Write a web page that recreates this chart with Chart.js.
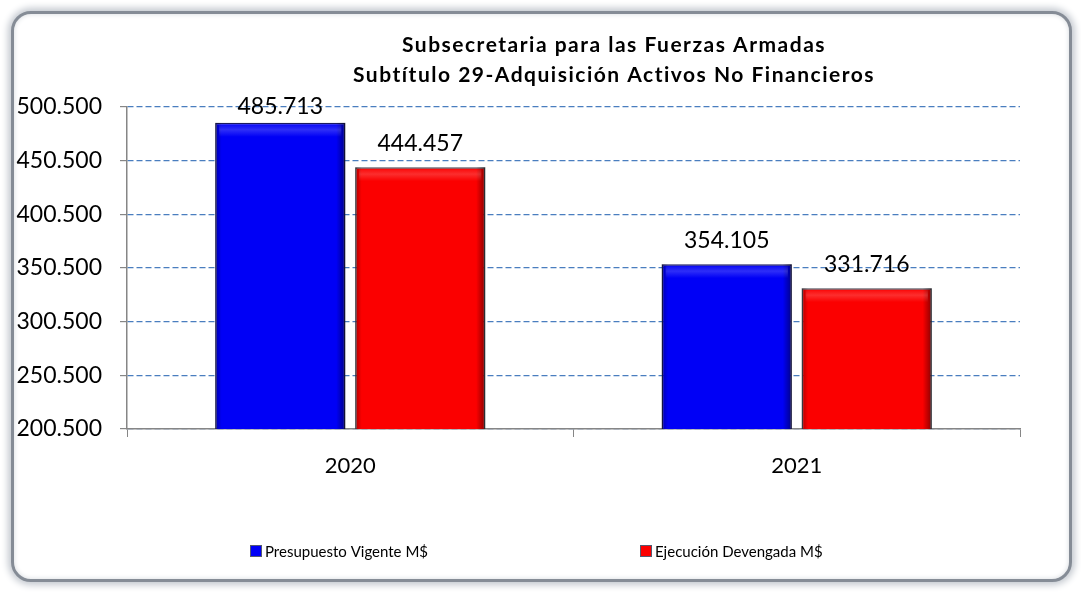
<!DOCTYPE html>
<html>
<head>
<meta charset="utf-8">
<script src="https://cdn.jsdelivr.net/npm/chart.js@4"></script>
<style>
	html, body { margin: 0; padding: 0; background: #fff; }
	#frame {
		position: absolute; left: 11px; top: 11px; width: 1055px; height: 565px;
		border: 3px solid #858c96; border-radius: 20px;
		box-shadow: 0 0 7px 3px #c3c8cf, inset 0 0 5px #d5d9de;
		background: #fff;
	}
	#wrap { position: absolute; left: 0; top: 0; width: 1081px; height: 592px; }
</style>
</head>
<body>
<div id="frame"></div>
<div id="wrap"><canvas id="budgetChart" width="1081" height="592"></canvas></div>
<script>
const years = ['2020', '2021'];
const presupuesto = [485713, 354105];
const ejecucion = [444457, 331716];
const yMin = 200500;
const yMax = 500500;
const yStep = 50000;
const titleLines = ['Subsecretaria para las Fuerzas Armadas', 'Subtítulo 29-Adquisición Activos No Financieros'];
const seriesNames = ['Presupuesto Vigente M$', 'Ejecución Devengada M$'];

const FONT = "Lato, 'Open Sans', sans-serif";

function fmt(v) {
	return String(Math.round(v)).replace(/\B(?=(\d{3})+(?!\d))/g, '.');
}

// darker edges on the bars, like the 3d office style
const barShade = {
	id: 'barShade',
	afterDatasetsDraw(chart) {
		const c = chart.ctx;
		const bottom = chart.chartArea.bottom;
		c.save();
		chart.data.datasets.forEach((ds, i) => {
			chart.getDatasetMeta(i).data.forEach(bar => {
				const p = bar.getProps(['x', 'y', 'width'], true);
				const l = p.x - p.width / 2;
				const w = p.width;
				const h = bottom - p.y;
				const g = c.createLinearGradient(l, 0, l + w, 0);
				g.addColorStop(0, 'rgba(0,0,0,0.30)');
				g.addColorStop(0.05, 'rgba(0,0,0,0)');
				g.addColorStop(0.93, 'rgba(0,0,0,0)');
				g.addColorStop(1, 'rgba(0,0,0,0.45)');
				c.fillStyle = g;
				c.fillRect(l, p.y, w, h);
				const gv = c.createLinearGradient(0, p.y, 0, p.y + 14);
				gv.addColorStop(0, 'rgba(255,255,255,0.0)');
				gv.addColorStop(0.5, 'rgba(255,255,255,0.18)');
				gv.addColorStop(1, 'rgba(255,255,255,0)');
				c.fillStyle = gv;
				c.fillRect(l + 4, p.y + 2, w - 8, 14);
			});
		});
		c.restore();
	}
};

// title, value labels and legend
const extras = {
	id: 'extras',
	afterDraw(chart) {
		const c = chart.ctx;
		c.save();
		c.fillStyle = '#000';
		c.textAlign = 'center';
		c.textBaseline = 'middle';
		c.font = 'bold 21px ' + FONT;
		c.letterSpacing = '1.5px';
		c.fillText(titleLines[0], 614, 45);
		c.fillText(titleLines[1], 614, 75);
		c.letterSpacing = '0px';

		c.font = '23px ' + FONT;
		c.textBaseline = 'bottom';
		const minBottom = chart.chartArea.top + 11;
		chart.data.datasets.forEach((ds, i) => {
			chart.getDatasetMeta(i).data.forEach((bar, j) => {
				c.fillText(fmt(ds.data[j]), bar.x, Math.max(bar.y - 12, minBottom));
			});
		});

		c.font = '15px ' + FONT;
		c.textAlign = 'left';
		c.textBaseline = 'middle';
		const legendX = [250, 640];
		chart.data.datasets.forEach((ds, i) => {
			const x = legendX[i];
			c.fillStyle = ds.backgroundColor;
			c.fillRect(x, 545, 12, 12);
			c.strokeStyle = '#555a70';
			c.lineWidth = 1;
			c.strokeRect(x + 0.5, 545.5, 11, 11);
			c.fillStyle = '#000';
			c.fillText(ds.label, x + 15, 552);
		});
		c.restore();
	}
};

new Chart(document.getElementById('budgetChart').getContext('2d'), {
	type: 'bar',
	data: {
		labels: years,
		datasets: [{
			label: seriesNames[0],
			data: presupuesto,
			backgroundColor: '#0000f6',
			borderColor: '#1a1a60',
			borderWidth: 1.5
		}, {
			label: seriesNames[1],
			data: ejecucion,
			backgroundColor: '#fb0000',
			borderColor: '#4a4a55',
			borderWidth: 1.5
		}]
	},
	options: {
		responsive: false,
		animation: false,
		categoryPercentage: 0.627,
		barPercentage: 0.93,
		layout: {
			padding: { top: 107, left: 0, right: 61, bottom: 113 }
		},
		plugins: {
			legend: { display: false },
			title: { display: false },
			tooltip: { enabled: false }
		},
		scales: {
			x: {
				afterFit(scale) { scale.height = 50; },
				grid: {
					offset: true,
					drawOnChartArea: false,
					color: '#868686',
					tickLength: 8
				},
				border: { color: '#868686', width: 1.5 },
				ticks: {
					color: '#000',
					padding: 16,
					font: { family: FONT, size: 22 }
				}
			},
			y: {
				min: yMin,
				max: yMax,
				afterFit(scale) { scale.width = 127; },
				grid: {
					color: '#4a7ebf',
					tickColor: '#868686',
					tickLength: 7,
					lineWidth: 1.2
				},
				border: { color: '#868686', width: 1.5, dash: [6, 3] },
				ticks: {
					stepSize: yStep,
					color: '#000',
					padding: 18,
					font: { family: FONT, size: 23 },
					callback: v => fmt(v)
				}
			}
		}
	},
	plugins: [barShade, extras]
});
</script>
</body>
</html>
